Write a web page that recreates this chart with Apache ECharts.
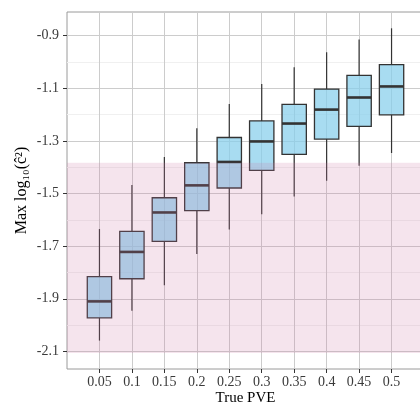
<!DOCTYPE html>
<html>
<head>
<meta charset="utf-8">
<script src="https://cdn.jsdelivr.net/npm/echarts@6/dist/echarts.min.js"></script>
<style>
  html, body { margin: 0; padding: 0; background: #fff; }
  #chart { width: 420px; height: 405px; }
</style>
</head>
<body>
<div id="chart"></div>
<script>
// categories (True PVE)
const pve = ['0.05', '0.1', '0.15', '0.2', '0.25', '0.3', '0.35', '0.4', '0.45', '0.5'];
// box statistics
const whiskerLow = [-2.059, -1.946, -1.849, -1.730, -1.637, -1.579, -1.511, -1.451, -1.394, -1.346];
const q1 = [-1.973, -1.824, -1.682, -1.565, -1.479, -1.412, -1.351, -1.293, -1.245, -1.201];
const median = [-1.910, -1.722, -1.572, -1.469, -1.380, -1.302, -1.234, -1.181, -1.135, -1.093];
const q3 = [-1.816, -1.644, -1.516, -1.383, -1.287, -1.224, -1.161, -1.103, -1.051, -1.010];
const whiskerHigh = [-1.635, -1.468, -1.361, -1.252, -1.160, -1.084, -1.020, -0.963, -0.915, -0.872];
// shaded band
const bandRange = [-2.106, -1.383];
// tick labels
const yTicks = [-2.1, -1.9, -1.7, -1.5, -1.3, -1.1, -0.9];
const yMinorTicks = [-2.0, -1.8, -1.6, -1.4, -1.2, -1.0];
const xPos = pve.map((_, i) => i + 1);

const font = 'Liberation Serif';
const boxData = pve.map((_, i) => [i + 1, whiskerLow[i], q1[i], median[i], q3[i], whiskerHigh[i]]);

function renderBox(params, api) {
    const x = api.value(0);
    const lo = api.coord([x, api.value(1)]);
    const b1 = api.coord([x, api.value(2)]);
    const md = api.coord([x, api.value(3)]);
    const b3 = api.coord([x, api.value(4)]);
    const hi = api.coord([x, api.value(5)]);
    const w = api.size([0.75, 0])[0];
    const stroke = '#333';
    return {
        type: 'group',
        children: [
            { type: 'line', shape: { x1: hi[0], y1: hi[1], x2: b3[0], y2: b3[1] }, style: { stroke: stroke, lineWidth: 1.2 } },
            { type: 'line', shape: { x1: b1[0], y1: b1[1], x2: lo[0], y2: lo[1] }, style: { stroke: stroke, lineWidth: 1.2 } },
            { type: 'rect', shape: { x: b3[0] - w / 2, y: b3[1], width: w, height: b1[1] - b3[1] },
              style: { fill: 'rgba(135,206,235,0.72)', stroke: stroke, lineWidth: 1.3 } },
            { type: 'line', shape: { x1: md[0] - w / 2, y1: md[1], x2: md[0] + w / 2, y2: md[1] }, style: { stroke: stroke, lineWidth: 2.6 } }
        ]
    };
}

const chart = echarts.init(document.getElementById('chart'), null, { renderer: 'canvas' });
chart.setOption({
    animation: false,
    grid: {
        left: 67, right: -4, top: 12, bottom: 36,
        outerBoundsMode: 'none',
        show: true, borderColor: '#9a9a9a', borderWidth: 1, backgroundColor: 'transparent'
    },
    xAxis: {
        type: 'value', min: 0, max: 11,
        name: 'True PVE', nameLocation: 'middle', nameGap: 22, nameMoveOverlap: false,
        nameTextStyle: { fontFamily: font, fontSize: 15, color: '#000' },
        axisLine: { show: false },
        axisTick: { show: true, length: 4, customValues: xPos, lineStyle: { color: '#333' } },
        axisLabel: {
            customValues: xPos, margin: 6,
            fontFamily: font, fontSize: 14, color: '#3a3a3a',
            formatter: v => pve[Math.round(v) - 1] || ''
        },
        splitLine: { show: true, lineStyle: { color: '#cccccc', width: 1 } }
    },
    yAxis: [{
        type: 'value', min: -2.167, max: -0.81,
        name: 'Max log\u2081\u2080(\u0109\u00b2)', nameLocation: 'middle', nameGap: 37, nameMoveOverlap: false,
        nameTextStyle: { fontFamily: font, fontSize: 16, color: '#000' },
        axisLine: { show: false },
        axisTick: { show: true, length: 4, customValues: yTicks, lineStyle: { color: '#333' } },
        axisLabel: {
            customValues: yTicks, margin: 8,
            fontFamily: font, fontSize: 14, color: '#3a3a3a',
            formatter: v => v.toFixed(1)
        },
        splitLine: { show: true, lineStyle: { color: '#cccccc', width: 1 } }
    }, {
        type: 'value', min: -2.167, max: -0.81, position: 'right',
        axisLine: { show: false },
        axisTick: { show: false, customValues: yMinorTicks },
        axisLabel: { show: false, customValues: yMinorTicks },
        splitLine: { show: true, lineStyle: { color: '#f0f0f0', width: 1 } }
    }],
    series: [{
        type: 'custom',
        name: 'box',
        z: 2,
        renderItem: renderBox,
        encode: { x: 0, y: [1, 2, 3, 4, 5] },
        data: boxData
    }, {
        type: 'line',
        name: 'band',
        z: 10,
        data: [],
        silent: true,
        markArea: {
            z: 10,
            silent: true,
            itemStyle: { color: 'rgba(204,121,167,0.2)' },
            data: [[{ yAxis: bandRange[0] }, { yAxis: bandRange[1] }]]
        }
    }]
});
</script>
</body>
</html>
